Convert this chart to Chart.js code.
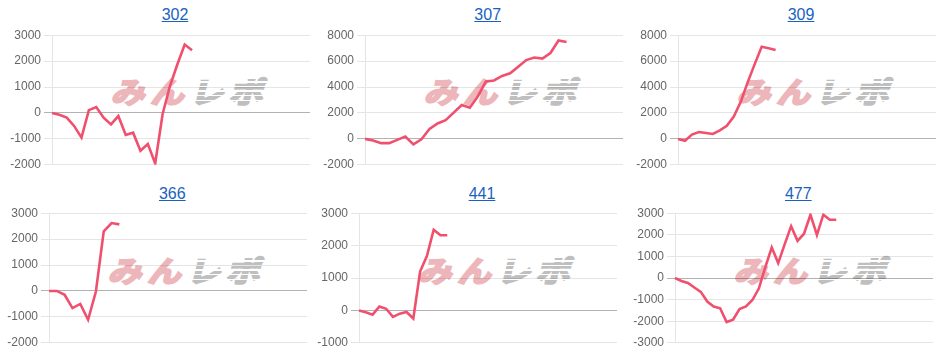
<!DOCTYPE html>
<html lang="ja">
<head>
<meta charset="utf-8">
<title>みんレポ</title>
<script src="https://cdn.jsdelivr.net/npm/chart.js@4.4.1/dist/chart.umd.min.js"></script>
<style>
    html, body { margin: 0; padding: 0; background: #fff; }
    body { width: 939px; height: 356px; position: relative; overflow: hidden; font-family: "Helvetica Neue", Helvetica, Arial, sans-serif; }
    .panel { position: absolute; width: 310px; height: 178px; }
    .panel a { position: absolute; top: 5px; left: 115px; width: 100px; text-align: center; font-size: 16px; line-height: 20px; color: #1a62c0; text-decoration: underline; }
    .panel canvas { position: absolute; left: 0; top: 24.5px; }
    .mark { position: absolute; left: 108px; top: 74px; white-space: nowrap; font-family: "Noto Sans CJK JP", sans-serif; font-weight: 700; font-size: 29px; line-height: 32px; letter-spacing: 5px; transform-origin: left top; transform: skewX(-14deg) scaleX(1.16); }
    .mark .min { color: #ecb6ba; -webkit-text-stroke: 2.2px #ecb6ba; }
    .mark .repo { position: relative; display: inline-block; color: #bfbfbf; -webkit-text-stroke: 2.2px #bfbfbf; }
    .mark .repo::after { content: ""; position: absolute; left: -4px; right: 0; top: 4px; bottom: 2px; background: repeating-linear-gradient(to bottom, rgba(255,255,255,0) 0 3.2px, #fff 3.2px 4.6px); }
</style>
</head>
<body>
<script>
/* ==========================================================
   data
========================================================== */

const panelTitles = ["302", "307", "309", "366", "441", "477"];

// number of x slots on each chart (x axis is hidden)
const slotCounts = [36, 33, 38, 34, 39, 41];

const values302 = [0, -70, -180, -500, -950, 110, 230, -180, -440, -120, -850, -760, -1460, -1200, -1950, -50, 1040, 1870, 2640, 2420];
const values307 = [0, -120, -330, -330, -80, 180, -430, -30, 760, 1190, 1440, 2030, 2610, 2400, 3290, 4430, 4510, 4860, 5060, 5570, 6080, 6280, 6200, 6630, 7590, 7470];
const values309 = [0, -150, 330, 530, 460, 380, 660, 1010, 1720, 2860, 4380, 5770, 7110, 6990, 6860];
const values366 = [0, 0, -150, -660, -500, -1110, -20, 2300, 2620, 2570];
const values441 = [0, -60, -130, 120, 50, -200, -100, -50, -250, 1200, 1680, 2490, 2320, 2320];
const values477 = [0, -140, -230, -440, -640, -1090, -1320, -1400, -2040, -1930, -1440, -1320, -1020, -490, 500, 1410, 690, 1560, 2400, 1720, 2050, 2930, 1990, 2930, 2700, 2700];

const seriesValues = [values302, values307, values309, values366, values441, values477];

// y axis tick range per chart
const yMins = [-2000, -2000, -2000, -2000, -1000, -3000];
const yMaxs = [3000, 8000, 8000, 3000, 3000, 3000];
const ySteps = [1000, 2000, 2000, 1000, 1000, 1000];

/* ==========================================================
   layout
========================================================== */

const panelShift = [10, 9.7, 10, 7.3, 4, 7.3];

const Charts = {

    build(i) {

        const col = i % 3;
        const row = Math.floor(i / 3);

        const panel = document.createElement("div");
        panel.className = "panel";
        panel.style.left = (313 * col + panelShift[i]) + "px";
        panel.style.top = (178 * row + (row ? 0.5 : 0)) + "px";

        const link = document.createElement("a");
        link.href = "#";
        link.textContent = panelTitles[i];
        panel.appendChild(link);

        const mark = document.createElement("div");
        mark.className = "mark";
        mark.innerHTML = '<span class="min">みん</span><span class="repo">レポ</span>';
        panel.appendChild(mark);

        const canvas = document.createElement("canvas");
        canvas.width = 300;
        canvas.height = 150;
        panel.appendChild(canvas);

        document.body.appendChild(panel);

        new Chart(canvas, {

            type: "line",

            data: {
                labels: Array.from({ length: slotCounts[i] }, (_, k) => String(k + 1)),
                datasets: [
                    {
                        label: panelTitles[i],
                        data: seriesValues[i],
                        borderColor: "#f0506e",
                        borderWidth: 2.6,
                        pointRadius: 0,
                        tension: 0,
                        fill: false
                    }
                ]
            },

            options: {
                responsive: false,
                animation: false,
                plugins: {
                    legend: { display: false },
                    tooltip: { enabled: false }
                },
                scales: {
                    x: { display: false },
                    y: {
                        min: yMins[i],
                        max: yMaxs[i],
                        ticks: {
                            stepSize: ySteps[i],
                            color: "#666",
                            font: { size: 12 },
                            callback: value => String(value)
                        },
                        grid: {
                            color: ctx => (ctx.tick && ctx.tick.value === 0) ? "rgba(0,0,0,0.3)" : "rgba(0,0,0,0.1)"
                        },
                        afterFit: scale => { scale.width = 42; }
                    }
                }
            }

        });

    }

};

panelTitles.forEach((_, i) => Charts.build(i));
</script>
</body>
</html>
